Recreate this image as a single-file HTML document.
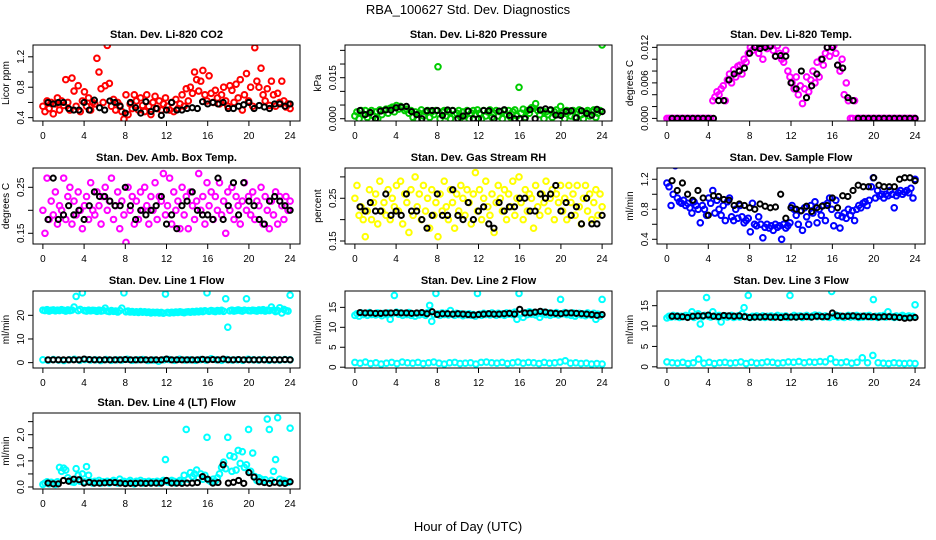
<!DOCTYPE html>
<html><head><meta charset="utf-8"><style>
html,body{margin:0;padding:0;background:#fff;}
svg{display:block;font-family:"Liberation Sans",sans-serif;}
</style></head><body>
<svg id="fig" width="936" height="540" viewBox="0 0 936 540">
<text x="468" y="14" text-anchor="middle" font-size="13">RBA_100627  Std. Dev. Diagnostics</text>
<text x="468" y="531" text-anchor="middle" font-size="13">Hour of Day (UTC)</text>
</svg>
<script>
const hourTicks=[0,4,8,12,16,20,24];
const co2Red=[0.55,0.48,0.62,0.52,0.6,0.45,0.58,0.66,0.5,0.62,0.56,0.9,0.6,0.5,0.92,0.75,0.55,0.82,0.48,0.62,0.74,0.55,0.66,0.5,0.6,0.58,1.18,1.0,0.78,0.6,0.82,1.35,0.85,0.55,0.64,0.5,0.6,0.56,0.48,0.38,0.7,0.44,0.58,0.52,0.7,0.62,0.5,0.66,0.56,0.48,0.7,0.55,0.44,0.6,0.68,0.52,0.62,0.5,0.58,0.66,0.55,0.5,0.6,0.48,0.64,0.52,0.58,0.7,0.55,0.78,0.62,0.8,0.72,1.0,0.9,0.75,0.88,1.02,0.7,0.62,0.95,0.72,0.6,0.76,0.66,0.58,0.7,0.8,0.62,0.55,0.82,0.76,0.6,0.84,0.66,0.9,0.5,0.7,0.98,0.62,0.8,0.55,1.32,0.88,0.8,1.05,0.7,0.62,0.78,0.56,0.88,0.7,0.55,0.72,0.6,0.88,0.62,0.54,0.58,0.52];
const co2Black=[0.6,0.58,0.6,0.6,0.52,0.5,0.5,0.6,0.5,0.63,0.53,0.5,0.62,0.6,0.55,0.46,0.6,0.53,0.46,0.61,0.48,0.52,0.43,0.5,0.6,0.5,0.5,0.52,0.53,0.52,0.61,0.58,0.6,0.58,0.6,0.52,0.52,0.55,0.57,0.6,0.52,0.56,0.54,0.52,0.58,0.58,0.55,0.58];
const pressGreenMilli=[1,2.5,0,3,1.5,3,0.5,2,3,1,2.5,0,3.2,1.5,3,3.5,2,3.8,4.2,2.5,4.8,3.5,4.5,4,3,3.5,2,3,0.5,2.5,0,2,3.2,1,2.5,3,0.5,2.5,1.5,3,19,0,2.5,3,1,2.5,0,3,1.5,2,3,0.5,2.5,1,3,0,2,3,1.5,3.2,2,0,3,1,2.5,3.2,0.5,2,3,1,2.5,0,3,1.5,3,0.5,2.5,3.2,1,11.5,2,3.5,0.5,3,2,4,3.8,5.5,3,1.5,3,0,2.5,1.5,3,0.5,2.5,3.2,1.5,4.5,2,0,3,2.5,1,3,0.5,2.5,3.2,1.5,0,2.5,3,1,2.5,3.2,0.5,2,3,27];
const pressBlackMilli=[3,1.5,2.3,0,2.8,3.2,3.1,4,4.3,4.5,2.6,1.5,0,2.9,3,3,1.2,3.2,3,0,1,2.8,0,0,3,2.9,0,2.8,3.3,1.2,0,0,0,3.3,0,3.2,3.6,3.3,1.3,1.2,2.7,2.9,0.3,2.9,1.9,1.3,3.4,2.6];
const tempMagMilli=[0,0,0,0,0,0,0,0,0,0,0,0,0,0,0,0,0,0,0,0,0,0,3,3.6,4.5,4,5,5.5,3,6.5,7.5,6,8.2,7,8.8,9,7.5,10,9.5,11,12,11.5,12.3,12,11,12.2,10,12.3,11.8,12.3,12.3,11.5,10.5,12.3,11,10,9.5,11.5,8,7,6,5,7,4,5.5,2.5,5,7,4.5,6.5,8,6,9.5,7,10,9,11,12,10.5,12.3,12.3,11,9,8,10,4,6,3,0,0,3,0,0,0,0,0,0,0,0,0,0,0,0,0,0,0,0,0,0,0,0,0,0,0,0,0,0,0,0,0];
const tempBlackMilli=[0,0,0,0,0,0,0,0,0,3,3,6.5,7.5,8,8.5,11,12,11.8,12,12.2,10.5,10.6,10.5,6,5,8,3.5,5.5,7.5,10,12,12,9,8.5,3.5,3,0,0,0,0,0,0,0,0,0,0,0,0];
const ambMagPct=[20,15,27,18,22,19,24,17,21,20,27,18,23,25,17,22,19,24,20,16,21,23,18,26,20,19,24,21,17,23,25,20,22,27,18,21,24,16,22,19,13,25,20,23,17,22,18,24,20,25,21,17,23,20,26,18,23,22,28,19,21,27,17,24,20,22,16,25,19,23,16,24,21,18,22,28,20,23,17,26,21,24,18,23,20,26,19,22,15,24,20,25,18,23,21,17,22,26,20,23,19,24,18,22,21,25,17,23,20,16,22,19,24,17,23,21,18,23,20,22];
const ambBlack=[0.18,0.27,0.18,0.19,0.21,0.19,0.2,0.18,0.21,0.24,0.23,0.23,0.22,0.21,0.21,0.25,0.21,0.18,0.2,0.19,0.2,0.21,0.23,0.17,0.19,0.16,0.21,0.22,0.24,0.2,0.19,0.19,0.18,0.27,0.18,0.21,0.26,0.19,0.26,0.22,0.21,0.18,0.17,0.22,0.23,0.22,0.21,0.2];
const rhYellowPct=[25,28,21,23,20,16,22,27,20,24,26,19,29,22,24,21,27,20,25,23,28,22,29,19,26,24,17,27,21,30,23,26,20,28,22,25,18,27,21,24,16,26,22,29,23,20,27,24,18,26,22,28,25,21,27,24,19,26,31,22,27,20,25,29,23,21,26,17,24,28,25,22,27,20,26,23,29,21,25,30,24,20,27,22,26,25,18,28,23,21,26,24,29,22,25,27,20,26,24,28,22,25,20,28,24,26,21,28,23,19,25,28,22,26,20,24,27,21,26,23];
const rhBlack=[0.23,0.22,0.24,0.22,0.22,0.26,0.21,0.22,0.21,0.26,0.22,0.22,0.2,0.18,0.21,0.26,0.21,0.21,0.27,0.21,0.2,0.24,0.2,0.22,0.23,0.19,0.18,0.24,0.22,0.23,0.23,0.25,0.25,0.22,0.22,0.26,0.25,0.26,0.28,0.22,0.24,0.21,0.23,0.19,0.25,0.19,0.19,0.21];
const flowBlue=[1.15,1.1,0.85,1.0,1.38,0.95,0.9,0.88,0.92,0.85,0.88,0.82,0.75,0.9,0.85,0.8,0.62,0.85,0.8,0.72,0.95,0.88,1.05,0.75,0.92,0.8,0.72,0.85,0.65,0.9,0.95,0.7,0.65,0.8,0.68,0.85,0.7,0.62,0.65,0.68,0.5,0.88,0.6,0.58,0.7,0.6,0.42,0.56,0.6,0.55,0.58,0.52,0.6,0.56,0.58,0.4,0.6,0.55,0.58,0.62,0.85,0.8,0.72,0.6,0.78,0.52,0.82,0.7,0.6,0.85,0.75,0.9,0.62,0.8,0.72,0.85,0.65,0.88,0.95,0.8,0.58,0.92,0.72,0.55,0.7,0.75,0.68,0.8,0.72,0.78,0.65,0.8,0.85,0.82,0.88,0.9,0.85,0.92,1.1,1.22,0.95,1.05,0.98,1.0,0.95,1.0,0.98,1.05,1.0,0.82,0.98,1.02,1.05,1.0,1.03,1.05,1.02,1.08,0.95,1.2];
const flowBlack=[1.18,1.05,1.15,1.0,0.92,1.05,0.95,0.72,0.98,0.97,0.93,0.92,0.85,0.87,0.85,0.82,0.8,0.87,0.84,0.82,0.83,1.0,0.68,0.82,0.8,0.78,0.84,0.77,0.82,0.84,0.85,0.95,0.82,0.98,0.97,1.05,1.12,1.1,1.1,1.22,1.12,1.1,1.1,1.1,1.2,1.22,1.22,1.18];
const line1High=[22.2,22,22.4,21.8,22.1,22.3,21.9,22.2,22,22.4,22.1,21.8,22.3,22,22.2,23.5,28,22,22.5,29.5,22,21.8,22.2,21.9,22.1,22.0,21.7,22.2,21.8,22,23,21.8,21.6,22,21.7,21.8,21.4,22,23,29.5,21.5,21.8,21.4,21.6,21.3,21.5,21.2,21.6,21.3,21.5,21.2,21.4,21,21.3,21.1,21.3,21,21.2,20.9,29,21.2,21,21.3,21.1,21.4,21.2,21.5,21.3,21.1,21.4,21.5,21.3,21.6,21.4,21.7,21.5,21.8,21.6,21.9,29.5,21.7,22,21.8,21.6,22,21.8,22.1,21.7,27,15,21.9,22.2,21.8,22,22.3,22,21.8,22.2,27,22,21.9,22.2,22,21.8,22.3,22,22.4,21.8,22.1,22,23.5,22.2,21.6,22,23.2,21,22.5,22,21.8,28.5];
const line1Low=[1.2,1.0,1.3,1.1,0.9,1.2,1.4,1.0,1.3,1.1,1.2,0.9,1.3,1.0,1.2,1.1,1.4,1.0,1.2,1.3,0.9,1.1,0.6,1.2,1.3,1.0,1.4,1.1,1.2,1.0,1.3,1.1,1.6,1.2,1.0,1.3,1.1,1.2,1.0,1.4,1.2,1.1,1.3,1.0,1.2,1.1,1.3,1.2];
const line1Black=[1.2,1.2,1.2,1.2,1.2,1.2,1.2,1.5,1.3,1.2,1.2,1.2,1.2,1.2,1.2,1.3,1.2,1.2,1.2,1.2,1.2,1.2,1.2,1.5,1.2,1.2,1.2,1.2,1.2,1.2,1.4,1.2,1.3,1.2,1.5,1.2,1.2,1.3,1.2,1.2,1.2,1.2,1.2,1.2,1.2,1.2,1.3,1.2];
const line2High=[13,13.4,12.8,13.6,13.2,13.5,13,13.7,13.2,13.4,13.1,13.6,13.3,12.9,13.5,13.2,13.6,12,13.4,18,13.8,13.3,13.6,13,13.5,13.2,13.7,13,13.4,12.8,13.5,13.1,13.6,13.3,13,13.7,15.5,11.5,13.2,18.5,13.4,13,13.6,13.2,13.5,13.1,14.2,13.3,13,13.5,13.2,13.4,12.9,13.3,13.1,13.4,13,13.2,12.8,18.5,13.3,13,13.5,13.2,13.4,13.1,13.6,13.3,13,13.5,13.2,13.4,13,13.6,13.3,13.5,13.2,13.8,12,18.5,13.4,12.5,13.6,13.2,13.9,13.3,13.7,13.1,13.5,12.5,13.4,13.8,13.2,13.6,13,13.5,13.3,13.7,13.1,17,13.4,13.7,13.2,13.5,13,13.6,12.8,13.3,13.5,13.1,13.4,12.9,13.6,13.2,13,13.5,12,13.3,12.8,17];
const line2Low=[1.2,1.0,1.3,0.9,1.1,0.8,1.0,1.2,0.9,1.3,1.1,1.0,1.2,0.9,1.1,1.3,1.0,0.8,1.1,1.2,0.9,1.0,1.1,0.8,1.2,1.3,1.1,1.0,1.2,0.9,1.1,1.3,1.0,1.2,1.1,0.9,1.2,1.0,1.1,1.3,1.6,1.0,1.1,0.9,1.0,0.8,0.9,0.8];
const line2Black=[13.7,13.6,13.6,13.5,13.5,13.6,13.6,13.7,13.6,13.6,13.5,13.6,13.7,13.4,13.9,13.2,13.4,13.4,13.3,13.4,13.3,13.2,13.1,13.2,13.3,13.4,13.3,13.3,13.4,13.5,13.3,14.5,13.6,13.6,13.8,14,13.8,13.6,13.5,13.4,13.6,13.6,13.5,13.4,13.3,13.2,13,13.2];
const line3High=[12,12.4,12.2,12.6,12.3,12.5,12.1,12.4,12.3,12.6,12.2,12.5,13.5,12.1,12.4,13,10.5,12.3,12.6,17,12.4,12.2,13.5,12.5,12.3,12.6,11,12.3,12.5,12.2,12.4,12.6,12.1,12.3,12.5,12.2,13,14.5,12.3,17.5,12.1,12.4,12.2,12.5,12.3,12.2,12.5,12.1,12.4,12.3,12.5,12.1,12.3,12.6,12.2,12.4,12.2,12.5,12.1,17.5,12.3,12.6,12.2,12.4,12.5,12.1,12.4,12.6,12.3,12.2,12.5,12.7,12.3,12.6,12.4,12.2,12.5,12.3,12.1,18.5,12.4,12.7,12.2,12.5,12.3,12.1,12.4,12.6,12.2,12.5,12.3,12.6,12.1,12.4,12.2,12.5,12.3,12.6,12.2,16.5,12.4,12.1,12.5,12.3,12.6,12.2,13.5,12.4,12.3,12.1,12.5,12.2,12.4,12.6,12.1,12.3,12.5,12.2,12.4,15.2];
const line3Low=[1.2,1.0,0.9,1.1,0.8,1.0,1.9,0.9,1.1,0.8,1.0,1.1,0.9,1.0,1.2,0.8,1.1,0.9,1.0,1.2,1.1,0.9,1.0,1.2,1.1,1.3,1.0,1.2,1.1,1.3,1.2,2.0,1.1,1.0,1.2,0.9,1.1,2.2,1.0,2.8,1.0,0.9,0.8,1.0,0.9,0.8,0.9,0.8];
const line3Black=[12.4,12.4,12.3,12.1,12.4,12.5,12.5,12.7,12.4,12.3,12.6,12.5,12.4,12.5,12.3,12.1,12.2,12.2,12.3,12.2,12.2,12.1,12.3,12.2,12.2,12.3,12.3,12.2,12.4,12.3,12.3,13.2,12.5,12.4,12.4,12.5,12.3,12.4,12.3,12.3,12.2,12.3,12.3,12.2,12.1,11.9,12,12.1];
const line4Cyan=[0.1,0.15,0.2,0.12,0.18,0.15,0.1,0.2,0.75,0.6,0.72,0.65,0.35,0.25,0.2,0.18,0.7,0.45,0.22,0.5,0.2,0.78,0.45,0.2,0.15,0.22,0.18,0.25,0.15,0.2,0.18,0.22,0.15,0.2,0.25,0.2,0.15,0.3,0.18,0.22,0.15,0.2,0.25,0.18,0.12,0.22,0.18,0.25,0.15,0.2,0.18,0.22,0.15,0.2,0.18,0.22,0.15,0.2,0.25,1.05,0.2,0.18,0.25,0.22,0.15,0.2,0.25,0.18,0.45,2.2,0.3,0.55,0.4,0.5,0.65,0.35,0.5,0.3,0.45,1.9,0.25,0.2,0.3,0.22,0.35,0.5,0.75,0.95,0.7,1.9,1.2,0.6,1.15,0.65,1.4,0.9,1.35,0.75,0.85,2.2,0.6,1.3,0.4,0.25,0.35,0.3,0.22,0.28,2.6,2.2,0.25,0.6,1.05,2.65,0.3,0.2,0.25,0.22,0.18,2.25];
const line4Black=[0.15,0.12,0.12,0.25,0.22,0.3,0.28,0.15,0.18,0.15,0.15,0.16,0.17,0.17,0.15,0.13,0.14,0.14,0.15,0.14,0.15,0.15,0.15,0.25,0.15,0.15,0.14,0.15,0.15,0.17,0.4,0.3,0.15,0.17,0.85,0.15,0.18,0.25,0.14,0.55,0.38,0.2,0.17,0.14,0.18,0.15,0.14,0.2];

const NS='http://www.w3.org/2000/svg';
const svg=document.getElementById('fig');
function mk(tag,attrs,parent){const e=document.createElementNS(NS,tag);for(const k in attrs)e.setAttribute(k,attrs[k]);(parent||svg).appendChild(e);return e;}
const colX=[[33,300],[345,612],[657,925]];
const rowY=[[45,121],[168,244],[291,368],[413,489]];
const scaleMilli=v=>v.map(a=>a/1000);
const scalePct=v=>v.map(a=>a/100);
const panels=[
 {name:'co2',title:'Stan. Dev. Li-820 CO2',yl:'Licor ppm',c:0,r:0,ylim:[0.356,1.355],ticks:[0.4,0.6,0.8,1.0,1.2],labels:{0.4:'0.4',0.8:'0.8',1.2:'1.2'},series:[[co2Red,'#ff0000']],black:co2Black},
 {name:'pressure',title:'Stan. Dev. Li-820 Pressure',yl:'kPa',c:1,r:0,ylim:[-0.00084,0.02696],ticks:[0,0.005,0.01,0.015,0.02,0.025],labels:{0:'0.000',0.015:'0.015'},series:[[scaleMilli(pressGreenMilli),'#00cc00']],black:scaleMilli(pressBlackMilli)},
 {name:'li820-temp',title:'Stan. Dev. Li-820 Temp.',yl:'degrees C',c:2,r:0,ylim:[-0.00044,0.0124],ticks:[0,0.002,0.004,0.006,0.008,0.01,0.012],labels:{0:'0.000',0.006:'0.006',0.012:'0.012'},series:[[scaleMilli(tempMagMilli),'#ff00ff']],black:scaleMilli(tempBlackMilli)},
 {name:'amb-box-temp',title:'Stan. Dev. Amb. Box Temp.',yl:'degrees C',c:0,r:1,ylim:[0.1267,0.292],ticks:[0.15,0.2,0.25],labels:{0.15:'0.15',0.25:'0.25'},series:[[scalePct(ambMagPct),'#ff00ff']],black:ambBlack},
 {name:'gas-stream-rh',title:'Stan. Dev. Gas Stream RH',yl:'percent',c:1,r:1,ylim:[0.143,0.3208],ticks:[0.15,0.2,0.25,0.3],labels:{0.15:'0.15',0.25:'0.25'},series:[[scalePct(rhYellowPct),'#ffff00']],black:rhBlack},
 {name:'sample-flow',title:'Stan. Dev. Sample Flow',yl:'ml/min',c:2,r:1,ylim:[0.337,1.35],ticks:[0.4,0.6,0.8,1.0,1.2],labels:{0.4:'0.4',0.8:'0.8',1.2:'1.2'},series:[[flowBlue,'#0000ff']],black:flowBlack},
 {name:'line1-flow',title:'Stan. Dev. Line 1 Flow',yl:'ml/min',c:0,r:2,ylim:[-2.27,30.28],ticks:[0,10,20],labels:{0:'0',10:'10',20:'20'},series:[[line1High,'#00ffff'],[line1Low,'#00ffff']],black:line1Black},
 {name:'line2-flow',title:'Stan. Dev. Line 2 Flow',yl:'ml/min',c:1,r:2,ylim:[-0.2,19.1],ticks:[0,5,10,15],labels:{0:'0',5:'5',10:'10',15:'15'},series:[[line2High,'#00ffff'],[line2Low,'#00ffff']],black:line2Black},
 {name:'line3-flow',title:'Stan. Dev. Line 3 Flow',yl:'ml/min',c:2,r:2,ylim:[-0.29,18.6],ticks:[0,5,10,15],labels:{0:'0',5:'5',10:'10',15:'15'},series:[[line3High,'#00ffff'],[line3Low,'#00ffff']],black:line3Black},
 {name:'line4-flow',title:'Stan. Dev. Line 4 (LT) Flow',yl:'ml/min',c:0,r:3,ylim:[-0.076,2.83],ticks:[0,0.5,1,1.5,2,2.5],labels:{0:'0.0',1:'1.0',2:'2.0'},series:[[line4Cyan,'#00ffff']],black:line4Black}
];
panels.forEach(p=>{
  const [x0,x1]=colX[p.c],[y0,y1]=rowY[p.r];
  const g=mk('g',{});
  
  
  const xs=h=>x0+(h+0.96)/25.92*(x1-x0);
  const ys=v=>y1-(v-p.ylim[0])/(p.ylim[1]-p.ylim[0])*(y1-y0);
  const clip=mk('clipPath',{id:'clip-'+p.name},g);
  mk('rect',{x:x0,y:y0,width:x1-x0,height:y1-y0},clip);
  const t=mk('text',{x:(x0+x1)/2,y:y0-7,'text-anchor':'middle','font-size':11,'font-weight':'bold'},g);
  t.textContent=p.title;
  
  
  const yl=mk('text',{x:x0-24,y:(y0+y1)/2,'text-anchor':'middle','font-size':10,transform:`rotate(-90 ${x0-24} ${(y0+y1)/2})`},g);
  yl.textContent=p.yl;
  
  
  const pts=mk('g',{'clip-path':`url(#clip-${p.name})`,fill:'none','stroke-width':2},g);
  p.series.forEach(([vals,col])=>{
    const sg=mk('g',{stroke:col},pts);
    
    
    vals.forEach((v,i)=>{
      const c=mk('circle',{cx:xs(i*24/(vals.length-1)),cy:ys(v),r:2.8},sg);
      
      
    });
  });
  const bg=mk('g',{stroke:'#000'},pts);
  
  
  p.black.forEach((v,i)=>{
    const c=mk('circle',{cx:xs(0.5*(i+1)),cy:ys(v),r:2.6},bg);
    
    
  });
  mk('rect',{x:x0,y:y0,width:x1-x0,height:y1-y0,fill:'none',stroke:'#000','stroke-width':1},g);
  hourTicks.forEach(h=>{
    const x=xs(h);
    mk('line',{x1:x,x2:x,y1:y1,y2:y1+5,stroke:'#000'},g);
    const tl=mk('text',{x:x,y:y1+18,'text-anchor':'middle','font-size':10},g);
    tl.textContent=String(h);
    
    
  });
  p.ticks.forEach(v=>{
    const y=ys(v);
    mk('line',{x1:x0-5,x2:x0,y1:y,y2:y,stroke:'#000'},g);
    if(p.labels[v]!==undefined){
      const tl=mk('text',{x:x0-9,y:y,'text-anchor':'middle','font-size':10,transform:`rotate(-90 ${x0-9} ${y})`},g);
      tl.textContent=p.labels[v];
      
      
    }
  });
});
</script>
</body></html>
